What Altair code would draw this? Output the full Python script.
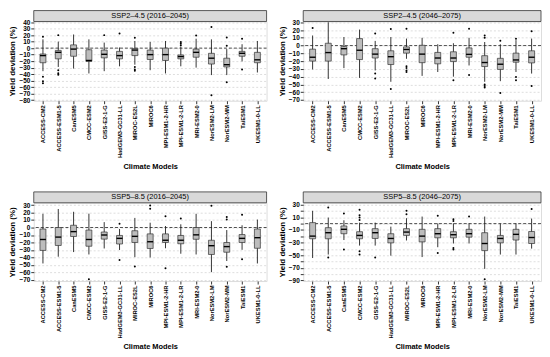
import altair as alt
import pandas as pd

MODELS = ["ACCESS-CM2", "ACCESS-ESM1-5", "CanESM5", "CMCC-ESM2", "GISS-E2-1-G",
          "HadGEM3-GC31-LL", "MIROC-ES2L", "MIROC6", "MPI-ESM1-2-HR", "MPI-ESM1-2-LR",
          "MRI-ESM2-0", "NorESM2-LM", "NorESM2-MM", "TaiESM1", "UKESM1-0-LL"]

# ---- SSP2-4.5 (2016-2045)
P1_TITLE = "SSP2\u20134.5 (2016\u20132045)"
P1_LO = [-35.5, -29, -31.5, -39, -35.5, -28, -25.5, -34, -39, -28, -30, -41.5, -41.5, -20.5, -37.5]
P1_Q1 = [-22.5, -16.5, -12.5, -20.5, -15, -16.5, -11.5, -17.5, -19, -16.5, -14, -24.5, -29, -12.5, -22.5]
P1_MED = [-11.5, -6.5, -1.5, -19, -9.5, -11.5, -3, -10, -10, -13, -6.5, -15.5, -25.5, -8, -18]
P1_Q3 = [-9, -3.5, 5, -2.5, -3, -5, -0.5, -3, 0, -10.5, -1.5, -8, -15.5, -5, -6.5]
P1_HI = [13.5, 10, 21, 13.5, 8.5, 1, 11, 9.5, 11, 2.5, 14.5, 13.5, -1.5, 6, 11]
P1_OUT_M = ["ACCESS-CM2"] * 4 + ["ACCESS-ESM1-5"] * 4 + ["GISS-E2-1-G", "HadGEM3-GC31-LL"] + \
           ["MIROC-ES2L"] * 4 + ["MPI-ESM1-2-LR"] * 3 + ["MRI-ESM2-0"] + ["NorESM2-LM"] * 2 + \
           ["NorESM2-MM"] * 3 + ["TaiESM1"] * 2
P1_OUT_V = [17.5, -44, -51, -54, 20, -34, -38.5, -41, 20, 22.5, 16, -29, -33, -35,
            9.5, 7, 4.5, 19.5, 32.5, -72.5, 16.5, 3.5, -52.5, 14.5, -33]
P1_DOMAIN = [-81, 41]
P1_TICKS = [40, 30, 20, 10, 0, -10, -20, -30, -40, -50, -60, -70, -80]

# ---- SSP2-4.5 (2046-2075)
P2_TITLE = "SSP2\u20134.5 (2046\u20132075)"
P2_LO = [-30.7, -43, -29, -41.6, -32, -46.6, -17, -39, -34, -40, -25.6, -46.6, -45.8, -34, -36]
P2_Q1 = [-20, -20, -12, -18, -16, -24.4, -9.7, -22, -23.5, -20.6, -15, -27, -30.7, -21.4, -22.3]
P2_MED = [-15, -9, -4, -6, -11, -14.3, -5, -11, -16, -16, -11.3, -21.8, -24, -18.5, -15]
P2_Q3 = [-4.6, 3, -1.3, 9, -4, -6.7, -1.7, 0.4, -8.8, -8, -3, -13, -16.4, -9.7, -6.7]
P2_HI = [13, 30, 11, 20.6, 6, 11, 9, 10, 1.7, 3, 10, 4.6, 1.7, 7, 9]
P2_OUT_M = ["ACCESS-CM2"] + ["GISS-E2-1-G"] * 3 + ["HadGEM3-GC31-LL"] * 2 + ["MIROC-ES2L"] * 5 + \
           ["MPI-ESM1-2-LR"] * 2 + ["MRI-ESM2-0"] * 2 + ["NorESM2-LM"] * 5 + ["NorESM2-MM"] * 2 + \
           ["TaiESM1"] * 3 + ["UKESM1-0-LL"] * 2
P2_OUT_V = [22.7, 15.5, -36, -42.4, 21.4, -56, 21.8, -26.5, -29, -32, -34, 16.4, -44.5,
            21.8, -38, 13, 10, -50, -52, -54, 6.3, -61, 8.8, -40.3, -44.5, 18.5, -52]
P2_DOMAIN = [-71, 31]
P2_TICKS = [30, 20, 10, 0, -10, -20, -30, -40, -50, -60, -70]

# ---- SSP5-8.5 (2016-2045)
P3_TITLE = "SSP5\u20138.5 (2016\u20132045)"
P3_LO = [-48, -39, -32.8, -36, -28, -30, -39.6, -40, -27.7, -35, -36, -59.6, -44.7, -29.8, -48]
P3_Q1 = [-30.6, -24, -12, -25, -15.5, -22, -20, -28, -20, -21.7, -15.7, -36, -33, -20, -27.7]
P3_MED = [-16, -12.8, -5.5, -16, -10, -14.5, -11.8, -19, -17, -17, -9.8, -24.3, -25.5, -14.5, -13.6]
P3_Q3 = [-2, 0, 3, -3.4, -6, -10.6, -4.3, -8.5, -8.5, -10.6, 0, -17, -20, -9.4, -2]
P3_HI = [18.3, 24.7, 21, 18.5, 7.2, -2, 12.8, 6.4, 2, 4.3, 18.3, 8.5, -3.4, 3, 10.6]
P3_OUT_M = ["CMCC-ESM2"] + ["HadGEM3-GC31-LL"] * 2 + ["MIROC-ES2L"] + ["MIROC6"] * 2 + \
           ["MPI-ESM1-2-HR"] * 2 + ["MPI-ESM1-2-LR"] + ["NorESM2-LM"] + ["NorESM2-MM"] * 3 + \
           ["TaiESM1"] * 2
P3_OUT_V = [-69, 5, -43.4, -52, 29.5, 25, 14.9, -54.5, 12, 29, 14, 10.6, -52.3, 17, -42.5]
P3_DOMAIN = [-71.5, 33]
P3_TICKS = [30, 20, 10, 0, -10, -20, -30, -40, -50, -60, -70]

# ---- SSP5-8.5 (2046-2075)
P4_TITLE = "SSP5\u20138.5 (2046\u20132075)"
P4_LO = [-54.5, -49, -26, -34.8, -34.8, -50.8, -26.7, -53, -37.4, -31.5, -31.5, -71.7, -49, -49, -39.6]
P4_Q1 = [-24, -24, -16, -24, -23.5, -30.5, -18.7, -28.9, -22.5, -22.5, -21.4, -42.8, -30.5, -26, -31.5]
P4_MED = [-19.8, -14.4, -9, -18.7, -14.4, -23.5, -13.4, -19.8, -16, -17.6, -16, -31.5, -23.5, -17, -22]
P4_Q3 = [1.6, -6.4, -3.7, -12.8, -8, -16, -8, -9, -8, -12.8, -9, -14.4, -18.7, -9, -12.5]
P4_HI = [20.3, 9.6, 5.3, 1.6, 1.6, -4.8, 8.6, 11.2, 0.5, 0.5, 0.5, 11.2, 0, 0.5, 8]
P4_OUT_M = ["ACCESS-ESM1-5"] * 2 + ["CanESM5"] * 2 + ["CMCC-ESM2"] * 6 + ["GISS-E2-1-G"] + \
           ["MIROC-ES2L"] * 2 + ["MPI-ESM1-2-HR"] * 2 + ["MPI-ESM1-2-LR"] * 4 + ["MRI-ESM2-0"] + \
           ["NorESM2-LM"] + ["UKESM1-0-LL"]
P4_OUT_V = [25.7, -53.5, 16, -41, 22, 13.4, 9.6, 5.9, -43.8, -49, -53.5, 20.3, 15,
            12.3, -46.5, 7, 4.3, -38.5, -41, 11.2, -88.2, 23]
P4_DOMAIN = [-91, 33]
P4_TICKS = [30, 20, 10, 0, -10, -20, -30, -40, -50, -60, -70, -80, -90]

FONT = "Liberation Sans"
STRIP_H = 11


def panel(title, lo, q1, med, q3, hi, out_m, out_v, domain, ticks, w, h):
    stats = pd.DataFrame({"model": MODELS, "lo": lo, "q1": q1, "med": med, "q3": q3, "hi": hi})
    outs = pd.DataFrame({"model": out_m, "v": out_v})
    xenc = alt.X("model:N", sort=MODELS, title="Climate Models",
                 scale=alt.Scale(type="point", padding=0.6),
                 axis=alt.Axis(labelAngle=270, labelFontSize=5.8, labelFontWeight="bold",
                               labelColor="black", labelPadding=1, tickSize=3,
                               tickColor="#333333", domain=False, grid=False,
                               titleFontSize=7.5, titleFontWeight="bold", titlePadding=5,
                               titleColor="black", labelFont=FONT, titleFont=FONT))
    ys = alt.Scale(domain=domain, nice=False, zero=False)
    yax = alt.Axis(values=ticks, labelFontSize=6.5, labelFontWeight="bold", labelColor="black",
                   labelPadding=1, tickSize=3, tickColor="#333333", domain=False,
                   grid=True, gridColor="#c8c8c8", gridDash=[2, 2], gridWidth=0.6,
                   titleFontSize=8, titleFontWeight="bold", titlePadding=2, titleColor="black",
                   labelFont=FONT, titleFont=FONT)
    ytitle = "Yield deviation (%)"
    base = alt.Chart(stats)
    whisk = base.mark_rule(color="black", strokeWidth=0.8).encode(
        x=xenc, y=alt.Y("lo:Q", scale=ys, axis=yax, title=ytitle), y2="hi:Q")
    zero = alt.Chart(pd.DataFrame({"z": [0]})).mark_rule(
        color="#222222", strokeDash=[3, 2], strokeWidth=0.8).encode(
        y=alt.Y("z:Q", scale=ys, axis=yax, title=ytitle))
    box = base.mark_bar(size=6, fill="#bdbdbd", stroke="#333333", strokeWidth=0.7).encode(
        x=xenc, y=alt.Y("q1:Q", scale=ys, axis=yax, title=ytitle), y2="q3:Q")
    medl = base.mark_tick(size=6, thickness=1.4, color="black", opacity=1).encode(
        x=xenc, y=alt.Y("med:Q", scale=ys, axis=yax, title=ytitle))
    pts = alt.Chart(outs).mark_circle(size=4, color="black", opacity=1).encode(
        x=xenc, y=alt.Y("v:Q", scale=ys, axis=yax, title=ytitle))
    sdf = pd.DataFrame({"t": [title]})
    strip = alt.Chart(sdf).mark_rect(fill="#d9d9d9", stroke="#333333", strokeWidth=0.8).encode(
        x=alt.value(0), x2=alt.value(w), y=alt.value(-STRIP_H), y2=alt.value(0))
    stext = alt.Chart(sdf).mark_text(fontSize=7.5, font=FONT, color="black",
                                     baseline="middle", align="center").encode(
        x=alt.value(w / 2), y=alt.value(-STRIP_H / 2), text="t:N")
    return alt.layer(whisk, zero, box, medl, pts, strip, stext).properties(width=w, height=h)


p1 = panel(P1_TITLE, P1_LO, P1_Q1, P1_MED, P1_Q3, P1_HI, P1_OUT_M, P1_OUT_V, P1_DOMAIN, P1_TICKS, 235, 80)
p2 = panel(P2_TITLE, P2_LO, P2_Q1, P2_MED, P2_Q3, P2_HI, P2_OUT_M, P2_OUT_V, P2_DOMAIN, P2_TICKS, 240, 80)
p3 = panel(P3_TITLE, P3_LO, P3_Q1, P3_MED, P3_Q3, P3_HI, P3_OUT_M, P3_OUT_V, P3_DOMAIN, P3_TICKS, 235, 79)
p4 = panel(P4_TITLE, P4_LO, P4_Q1, P4_MED, P4_Q3, P4_HI, P4_OUT_M, P4_OUT_V, P4_DOMAIN, P4_TICKS, 240, 79)

chart = alt.vconcat(
    alt.hconcat(p1, p2, spacing=10),
    alt.hconcat(p3, p4, spacing=10),
    spacing=20,
).properties(padding=0).configure_view(stroke="#333333", strokeWidth=1).configure(font=FONT)

chart.save("out.html", embed_options={"renderer": "svg", "actions": False})
